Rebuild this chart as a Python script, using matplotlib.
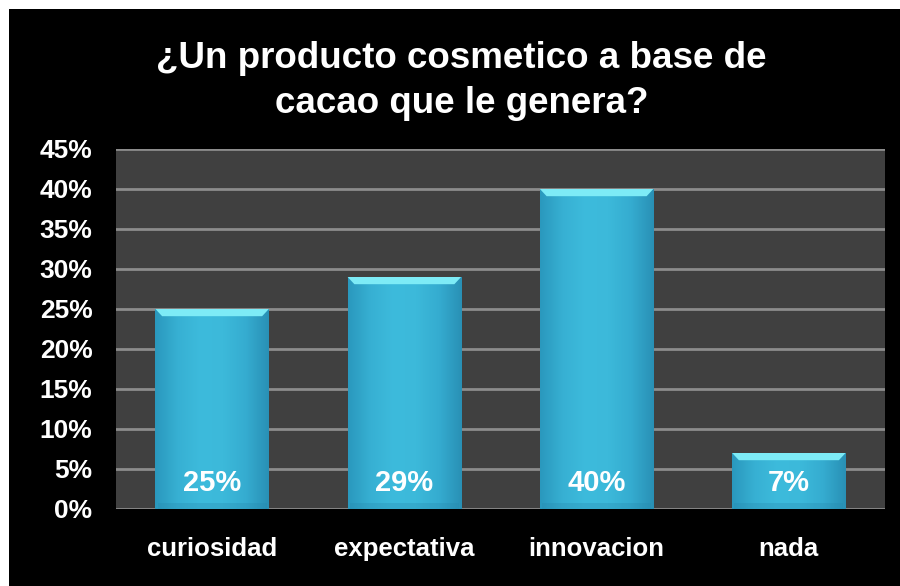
import numpy as np
import matplotlib
matplotlib.use("Agg")
import matplotlib.pyplot as plt
from matplotlib.patches import Rectangle
from matplotlib.colors import LinearSegmentedColormap

categories = ["curiosidad", "expectativa", "innovacion", "nada"]
values = [25, 29, 40, 7]
yticks = [0, 5, 10, 15, 20, 25, 30, 35, 40, 45]
title_lines = ["¿Un producto cosmetico a base de", "cacao que le genera?"]

plt.rcParams['font.family'] = ['Liberation Sans', 'DejaVu Sans']
plt.rcParams['font.weight'] = 'bold'

fig = plt.figure(figsize=(9, 5.86), dpi=100)
fig.patch.set_facecolor('white')
# black panel, with a thin white margin on top and left
fig.add_artist(Rectangle((9 / 900, 0), 1 - 9 / 900, 1 - 9 / 586,
                         transform=fig.transFigure, facecolor='black',
                         edgecolor='none', zorder=0))

ax = fig.add_axes([116 / 900, 77 / 586, 769 / 900, 360 / 586])
ax.set_facecolor('#404040')

for y in yticks:
    ax.axhline(y, color='#8c8c8c', lw=2, zorder=1)

for s in ax.spines.values():
    s.set_visible(False)

# horizontal shading across each bar: darker edges, lighter middle
shade = LinearSegmentedColormap.from_list(
    'shade', ['#2a98bd', '#37b0d3', '#3dbbdc', '#3cb9da', '#35acd0', '#2990b5'])
grad = np.linspace(0, 1, 256).reshape(1, -1)

width = 0.59
x = np.arange(len(categories))
bars = ax.bar(x, values, width=width, color='#3ab6d8', zorder=2)
for xi, v, b in zip(x, values, bars):
    im = ax.imshow(grad, cmap=shade, aspect='auto', zorder=3,
                   extent=(xi - width / 2, xi + width / 2, 0, v))
    im.set_clip_path(b)
    # slightly darker band near the base
    ax.bar(xi, 0.8, width=width * 0.96, color='#2688ad', alpha=0.3, zorder=4)
    # bright bevel along the top edge
    ax.fill([xi - width / 2, xi + width / 2, xi + width / 2 - 0.035, xi - width / 2 + 0.035],
            [v, v, v - 0.9, v - 0.9], color='#7debf6', zorder=4, lw=0)
    ax.text(xi, 3.3, f"{v}%", ha='center', va='center', color='white',
            fontsize=21, fontweight='bold', zorder=5)

ax.set_xlim(-0.5, len(categories) - 0.5)
ax.set_ylim(0, 45)
ax.set_yticks(yticks)
ax.set_yticklabels([f"{t}%" for t in yticks], color='white', fontsize=19,
                   fontweight='bold')
ax.set_xticks(x)
ax.set_xticklabels(categories, color='white', fontsize=18.5, fontweight='bold')
ax.tick_params(axis='y', length=0, pad=17)
ax.tick_params(axis='x', length=0, pad=20)

fig.text(0.513, 1 - 59 / 586, title_lines[0], ha='center', va='center',
         color='white', fontsize=26.5, fontweight='bold')
fig.text(0.513, 1 - 103 / 586, title_lines[1], ha='center', va='center',
         color='white', fontsize=26.5, fontweight='bold')

fig.savefig('out.png', dpi=100, facecolor=fig.get_facecolor())
